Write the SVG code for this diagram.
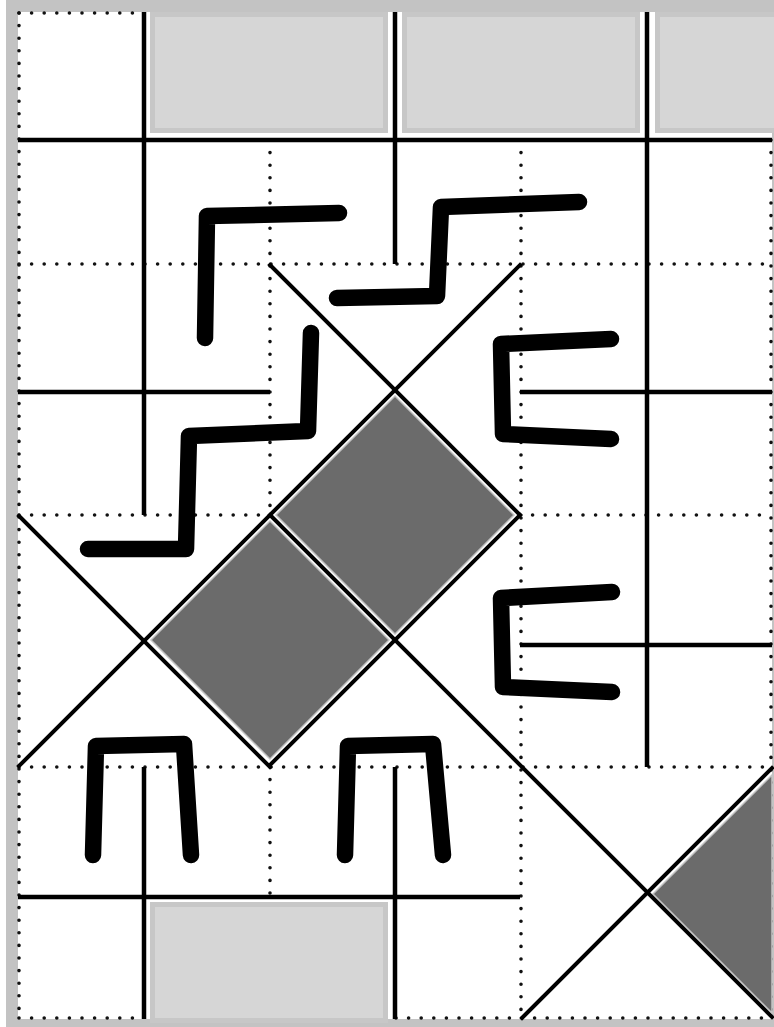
<svg xmlns="http://www.w3.org/2000/svg" width="774" height="1027" viewBox="0 0 774 1027">
<style>
.solid{stroke:#000;stroke-width:4.5;fill:none}
.dot{stroke:#111;stroke-width:3.6;stroke-dasharray:0 12.6;stroke-linecap:round;fill:none}
.diag{stroke:#000;stroke-width:4;fill:none;stroke-linecap:square}
.cell{fill:#d6d6d6;stroke:#c7c7c7;stroke-width:5}
.dia{fill:#6b6b6b;stroke:#c4c4c4;stroke-width:1.5}
.pen{stroke:#000;stroke-width:16.5;fill:none;stroke-linecap:round;stroke-linejoin:round}
</style>
<rect x="0" y="0" width="774" height="1027" fill="#ffffff"/>
<path d="M6,0 H774 V1027 H6 Z M18,12 V1019 H772 V12 Z" fill="#c3c3c3" fill-rule="evenodd"/>
<g id="cells">
<rect class="cell" x="152.5" y="14.5" width="233" height="116"/>
<rect class="cell" x="404.5" y="14.5" width="233" height="116"/>
<rect class="cell" x="657.5" y="14.5" width="120" height="116"/>
<rect class="cell" x="152.5" y="904.5" width="233" height="116"/>
</g>
<g id="dotted">
<path class="dot" d="M19,13 H144"/>
<path class="dot" d="M19,13 V1018"/>
<path class="dot" d="M19,1018 H144 M396,1018 H772"/>
<path class="dot" d="M771,140 V1018"/>
<path class="dot" d="M19,264 H772"/>
<path class="dot" d="M19,515 H270 M520,515 H772"/>
<path class="dot" d="M19,767 H772"/>
<path class="dot" d="M270,140 V515 M270,767 V897"/>
<path class="dot" d="M521,140 V1018"/>
</g>
<g id="grid">
<path class="solid" d="M18,140 H772"/>
<path class="solid" d="M18,392 H270 M520,392 H772"/>
<path class="solid" d="M520,645 H772"/>
<path class="solid" d="M18,897 H520"/>
<path class="solid" d="M144,12 V515 M144,767 V1019"/>
<path class="solid" d="M395,12 V264 M395,767 V1019"/>
<path class="solid" d="M647,12 V767"/>
</g>
<g id="diamonds">
<polygon class="dia" points="395,396 514,515 395,634 276,515"/>
<polygon class="dia" points="270,521 389,640 270,759 151,640"/>
<polygon class="dia" points="772,775 653,894 772,1013"/>
</g>
<g id="connectors">
<line class="diag" x1="19" y1="516" x2="270" y2="767"/>
<line class="diag" x1="19" y1="766" x2="520" y2="265"/>
<line class="diag" x1="270" y1="265" x2="520" y2="515"/>
<line class="diag" x1="270" y1="515" x2="772" y2="1017"/>
<line class="diag" x1="520" y1="515" x2="270" y2="765"/>
<line class="diag" x1="522" y1="1018" x2="772" y2="768"/>
</g>
<g id="strokes">
<path class="pen" d="M205,338 L207,216 L339,213"/>
<path class="pen" d="M337,298 L437,296 L441,207 L579,202"/>
<path class="pen" d="M311,333 L308,431 L189,436 L186,549 L88,549"/>
<path class="pen" d="M611,339 L501,344 L503,434 L611,439"/>
<path class="pen" d="M612,592 L501,598 L503,687 L612,692"/>
<path class="pen" d="M93,855 L96,746 L184,744 L191,855"/>
<path class="pen" d="M345,855 L348,746 L433,744 L443,855"/>
</g>
</svg>
